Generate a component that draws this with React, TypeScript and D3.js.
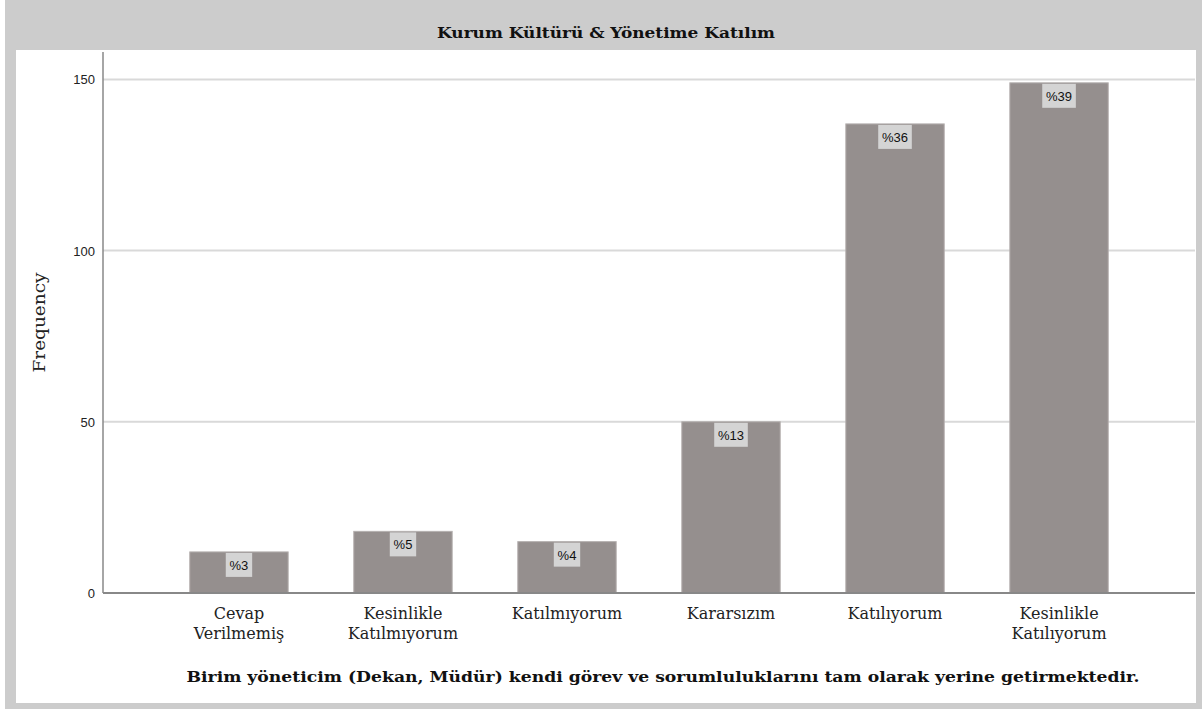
import React from "react";
import * as d3 from "d3";

const categories: string[][] = [
  ["Cevap", "Verilmemiş"],
  ["Kesinlikle", "Katılmıyorum"],
  ["Katılmıyorum"],
  ["Kararsızım"],
  ["Katılıyorum"],
  ["Kesinlikle", "Katılıyorum"],
];
const frequencies: number[] = [12, 18, 15, 50, 137, 149];
const percentLabels: string[] = ["%3", "%5", "%4", "%13", "%36", "%39"];
const yTicks: number[] = [0, 50, 100, 150];

const title = "Kurum Kültürü & Yönetime Katılım";
const xTitle = "Birim yöneticim (Dekan, Müdür) kendi görev ve sorumluluklarını tam olarak yerine getirmektedir.";
const yTitle = "Frequency";

const W = 1203;
const H = 711;
const plot = { left: 103, right: 1195, top: 52, bottom: 593 };

export default function App() {
  const keys = categories.map((c) => c.join(" "));
  const x = d3
    .scaleBand<string>()
    .domain(keys)
    .range([plot.left, plot.right])
    .paddingInner(0.4)
    .paddingOuter(0.529);
  const y = d3.scaleLinear().domain([0, 158]).range([plot.bottom, plot.top]);
  const serif = "DejaVu Serif, Liberation Serif, serif";
  const sans = "Liberation Sans, Arial, sans-serif";

  const charW = 7.2;

  return (
    <svg
      width={W}
      height={H}
      style={{ position: "absolute", left: 0, top: 0 }}
    >
      <rect x={0} y={0} width={W} height={H} fill="#ffffff" />
      <rect x={5} y={0} width={1197} height={709} fill="#cccccc" />
      <rect x={16} y={50} width={1180} height={653} fill="#ffffff" />
      <text
        x={606}
        y={38}
        textAnchor="middle"
        fontFamily={serif}
        fontSize={15}
        fontWeight="bold"
        fill="#111"
        textLength={338}
        lengthAdjust="spacingAndGlyphs"
      >
        {title}
      </text>

      {yTicks.map((t) => (
        <g key={t}>
          {t > 0 && (
            <line
              x1={plot.left}
              x2={plot.right}
              y1={y(t)}
              y2={y(t)}
              stroke="#d9d9d9"
              strokeWidth={2}
            />
          )}
          <text
            x={plot.left - 8}
            y={y(t) + 5}
            textAnchor="end"
            fontFamily={sans}
            fontSize={13}
            fill="#222"
          >
            {t}
          </text>
        </g>
      ))}

      {frequencies.map((v, i) => {
        const k = keys[i];
        const bx = x(k)!;
        const bw = x.bandwidth();
        const top = y(v);
        const label = percentLabels[i];
        const boxW = label.length * charW + 12;
        const cx = bx + bw / 2;
        return (
          <g key={k}>
            <rect
              x={bx}
              y={top}
              width={bw}
              height={plot.bottom - top}
              fill="#958f8e"
              stroke="#b5b0af"
              strokeWidth={1}
            />
            <rect x={cx - boxW / 2} y={top + 1} width={boxW} height={24} fill="#d4d4d4" />
            <text
              x={cx}
              y={top + 18}
              textAnchor="middle"
              fontFamily={sans}
              fontSize={13}
              fill="#111"
            >
              {label}
            </text>
          </g>
        );
      })}

      <line x1={plot.left} x2={plot.left} y1={plot.top} y2={plot.bottom} stroke="#888" strokeWidth={1.5} />
      <line x1={plot.left} x2={plot.right} y1={plot.bottom} y2={plot.bottom} stroke="#888" strokeWidth={2} />

      {categories.map((lines, i) => {
        const cx = x(keys[i])! + x.bandwidth() / 2;
        return (
          <text
            key={i}
            textAnchor="middle"
            fontFamily={serif}
            fontSize={16}
            fill="#222"
          >
            {lines.map((ln, j) => (
              <tspan key={j} x={cx} y={619 + j * 20}>
                {ln}
              </tspan>
            ))}
          </text>
        );
      })}

      <text
        x={663}
        y={682}
        textAnchor="middle"
        fontFamily={serif}
        fontSize={15}
        fontWeight="bold"
        fill="#111"
        textLength={953}
        lengthAdjust="spacingAndGlyphs"
      >
        {xTitle}
      </text>

      <text
        transform={`translate(45, ${(plot.top + plot.bottom) / 2}) rotate(-90)`}
        textAnchor="middle"
        fontFamily={serif}
        fontSize={16}
        fill="#222"
        textLength={100}
        lengthAdjust="spacingAndGlyphs"
      >
        {yTitle}
      </text>
    </svg>
  );
}
